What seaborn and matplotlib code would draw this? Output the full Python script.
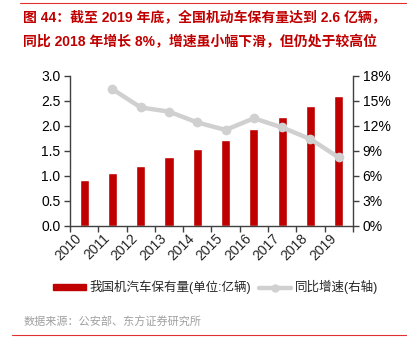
import numpy as np
import pandas as pd
import matplotlib
matplotlib.use("Agg")
from matplotlib import pyplot as plt
from matplotlib.patches import Patch
from matplotlib.lines import Line2D
import seaborn as sns

sns.set_style("ticks")
plt.rcParams['font.family'] = ['Liberation Sans', 'Noto Sans CJK SC']

##########################################################################
# data

years = ['2010', '2011', '2012', '2013', '2014', '2015', '2016', '2017', '2018', '2019']
stock = [0.91, 1.05, 1.20, 1.37, 1.54, 1.72, 1.94, 2.17, 2.40, 2.60]   # 亿辆
growth_years = ['2011', '2012', '2013', '2014', '2015', '2016', '2017', '2018', '2019']
growth = [16.4, 14.2, 13.7, 12.4, 11.5, 12.9, 11.8, 10.4, 8.2]          # %

left_ticks = [0.0, 0.5, 1.0, 1.5, 2.0, 2.5, 3.0]
right_ticks = [0, 3, 6, 9, 12, 15, 18]

title_1 = '图 44：截至 2019 年底，全国机动车保有量达到 2.6 亿辆，'
title_2 = '同比 2018 年增长 8%，增速虽小幅下滑，但仍处于较高位'
bar_label = '我国机汽车保有量(单位:亿辆)'
line_label = '同比增速(右轴)'
source = '数据来源：公安部、东方证券研究所'

red = '#C00000'
grey = '#D0D0D0'
spine = '#404040'

df = pd.DataFrame({'year': years, 'stock': stock})
pos = [years.index(y) for y in growth_years]

fig = plt.figure(figsize=(4.07, 3.56), dpi=100)
ax = fig.add_axes([0.172, 0.366, 0.695, 0.421])

sns.barplot(data=df, x='year', y='stock', color=red, saturation=1, width=0.32, ax=ax)
ax2 = ax.twinx()
sns.lineplot(x=pos, y=growth, color=grey, lw=3.2, marker='o', markersize=7,
             markeredgewidth=0, ax=ax2)

ax.set_ylim(0, 3.0)
ax.set_yticks(left_ticks)
ax.set_yticklabels(['%.1f' % t for t in left_ticks], fontsize=10)
ax2.set_ylim(0, 18)
ax2.set_yticks(right_ticks)
ax2.set_yticklabels(['%d%%' % t for t in right_ticks], fontsize=10)
ax.set_xlim(-0.5, len(years) - 0.5)

# year labels at bar centres, tick marks at category boundaries
ax.set_xticks(range(len(years)))
ax.set_xticklabels(years, rotation=45, ha='right', fontsize=10)
ax.tick_params(axis='x', which='major', length=0, pad=4)
ax.set_xticks(np.arange(len(years) + 1) - 0.5, minor=True)
ax.tick_params(axis='x', which='minor', length=4, color=spine, width=1)
ax.set_xlabel('')
ax.set_ylabel('')
ax2.set_ylabel('')

for a in (ax, ax2):
    a.spines['top'].set_visible(False)
    for s in ('left', 'right', 'bottom'):
        a.spines[s].set_color(spine)
        a.spines[s].set_linewidth(1)
    a.tick_params(axis='y', length=4, color=spine, width=1, pad=3, labelcolor='black')
ax.spines['right'].set_visible(False)
ax2.spines['left'].set_visible(False)
ax2.spines['bottom'].set_visible(False)

handles = [Patch(color=red, label=bar_label),
           Line2D([], [], color=grey, lw=3.2, marker='o', markersize=5, label=line_label)]
fig.legend(handles=handles, loc='center', bbox_to_anchor=(0.53, 0.193), ncol=2,
           frameon=False, fontsize=9, handlelength=2.6, handleheight=0.4,
           columnspacing=0.6, handletextpad=0.3)

fig.text(0.057, 0.952, title_1, color=red, fontsize=10, fontweight='bold', va='center')
fig.text(0.057, 0.882, title_2, color=red, fontsize=10, fontweight='bold', va='center')
fig.text(0.057, 0.095, source, color='#A0A0A0', fontsize=8, va='center')
fig.add_artist(Line2D([0.049, 1.0], [0.992, 0.992], color='#E03030', lw=0.8))
fig.add_artist(Line2D([0.03, 1.0], [0.059, 0.059], color='#E03030', lw=0.8))

plt.savefig('out.png', dpi=100)
